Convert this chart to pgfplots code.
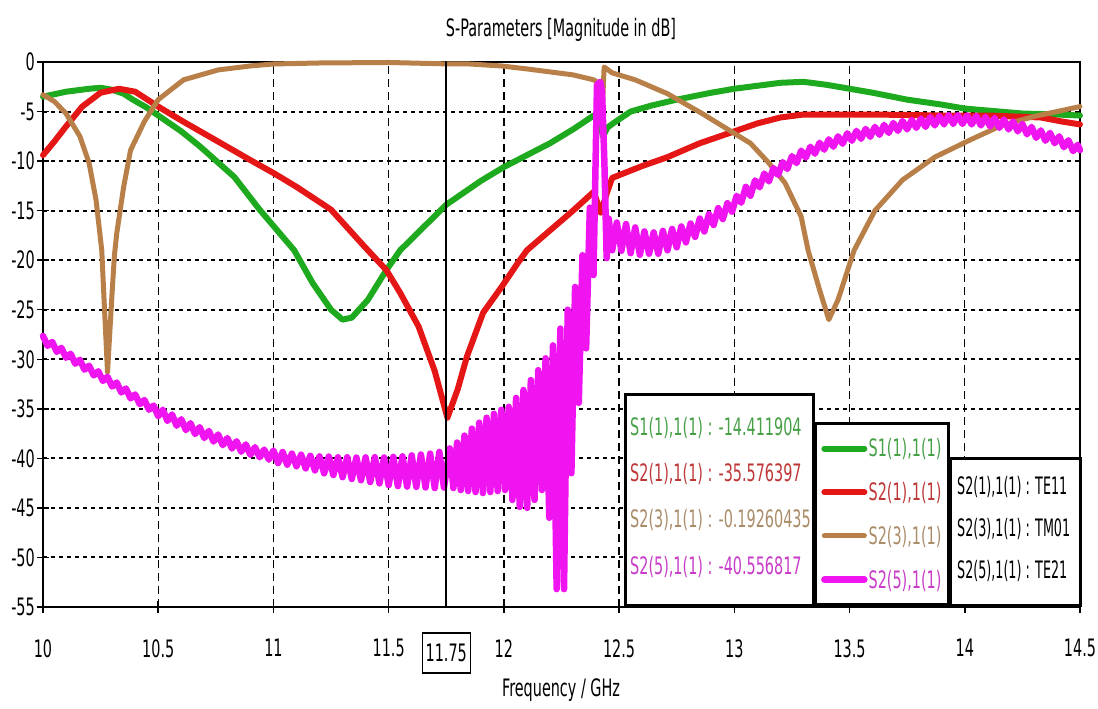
\documentclass[border=0pt]{standalone}
\usepackage{pgfplots}
\pgfplotsset{compat=1.18}
\usepackage{fontspec}
\setmainfont{DejaVu Sans}[FakeStretch=0.6]
\newfontfamily\narrowfont{DejaVu Sans}[FakeStretch=0.53]
\definecolor{cgreen}{RGB}{30,170,30}
\definecolor{cred}{RGB}{228,22,22}
\definecolor{cbrown}{RGB}{184,128,72}
\definecolor{cmag}{RGB}{240,20,240}
\definecolor{tgreen}{RGB}{70,160,70}
\definecolor{tred}{RGB}{190,55,55}
\definecolor{tbrown}{RGB}{170,140,105}
\definecolor{tmag}{RGB}{200,60,200}
\newcommand{\fs}{\fontsize{24}{28}\selectfont}
\begin{document}
\begin{tikzpicture}[x=1pt,y=1pt]
\useasboundingbox (0,0) rectangle (1098,709);
\begin{axis}[
  at={(43pt,102pt)}, anchor=south west,
  scale only axis, width=1037pt, height=545pt,
  xmin=10, xmax=14.5, ymin=-55, ymax=0,
  clip=false,
  xtick={10,10.5,11,11.5,12,12.5,13,13.5,14,14.5},
  xticklabels={10,10.5,11,11.5,12,12.5,13,13.5,14,14.5},
  ytick={-55,-50,-45,-40,-35,-30,-25,-20,-15,-10,-5,0},
  yticklabels={-55,-50,-45,-40,-35,-30,-25,-20,-15,-10,-5,0},
  xtick pos=left, ytick pos=left,
  tick align=center, major tick length=12pt,
  tick style={black, line width=1.5pt},
  axis line style={black, line width=2pt},
  grid=major,
  x grid style={black, line width=1.3pt, dash pattern=on 8pt off 5pt},
  y grid style={black, line width=2pt, dash pattern=on 4pt off 4pt},
  xticklabel style={font=\fs, inner sep=0pt, anchor=north, yshift=-26pt},
  yticklabel style={font=\fs, inner sep=0pt, anchor=east, xshift=-2pt},
  legend style={at={(0.8746,0.0018)}, anchor=south east, draw=black, line width=3pt, fill=white,
    inner xsep=6pt, inner ysep=14pt, row sep=22pt, font=\fs,
    nodes={inner sep=1pt}},
  legend cell align=left,
  legend image code/.code={\draw[#1] (0pt,0pt) -- (40pt,0pt);},
  every axis plot/.append style={line join=round, line cap=round},
]
\addplot[cgreen, line width=6pt] coordinates {
(10.00,-3.5)(10.10,-3.0)(10.20,-2.7)(10.25,-2.6)(10.30,-2.8)(10.35,-3.2)(10.39,-3.8)(10.45,-4.6)(10.50,-5.4)(10.60,-7.0)(10.68,-8.5)(10.83,-11.6)(10.94,-14.9)(11.09,-19.0)(11.17,-22.3)(11.25,-25.0)(11.30,-26.0)(11.34,-25.8)(11.41,-24.0)(11.49,-21.0)(11.55,-19.0)(11.65,-16.7)(11.75,-14.4)(11.90,-12.0)(12.00,-10.6)(12.10,-9.4)(12.20,-8.2)(12.30,-6.8)(12.39,-5.4)(12.415,-5.8)(12.43,-7.5)(12.45,-6.6)(12.48,-6.1)(12.55,-5.0)(12.64,-4.4)(12.75,-3.8)(12.90,-3.1)(13.00,-2.7)(13.10,-2.4)(13.20,-2.1)(13.30,-2.0)(13.40,-2.3)(13.50,-2.7)(13.60,-3.1)(13.75,-3.8)(13.90,-4.3)(14.00,-4.7)(14.15,-5.0)(14.25,-5.2)(14.40,-5.3)(14.50,-5.4)
};
\addlegendentry{\textcolor{tgreen}{S1(1),1(1)}}
\addplot[cred, line width=6pt] coordinates {
(10.00,-9.4)(10.05,-8.0)(10.10,-6.5)(10.17,-4.5)(10.25,-3.1)(10.33,-2.7)(10.40,-3.0)(10.50,-4.5)(10.60,-5.9)(10.75,-7.9)(10.90,-9.9)(11.00,-11.2)(11.10,-12.6)(11.25,-14.9)(11.39,-18.5)(11.49,-21.0)(11.55,-23.3)(11.63,-26.7)(11.70,-31.2)(11.755,-35.9)(11.80,-33.0)(11.84,-29.7)(11.91,-25.3)(11.99,-22.7)(12.06,-20.3)(12.10,-19.0)(12.20,-17.0)(12.30,-15.0)(12.39,-13.1)(12.42,-15.2)(12.45,-13.0)(12.47,-11.7)(12.60,-10.5)(12.71,-9.6)(12.85,-8.2)(13.00,-7.0)(13.10,-6.2)(13.20,-5.6)(13.30,-5.3)(13.60,-5.3)(13.90,-5.4)(14.10,-5.4)(14.33,-5.6)(14.42,-6.0)(14.50,-6.3)
};
\addlegendentry{\textcolor{tred}{S2(1),1(1)}}
\addplot[cbrown, line width=5pt] coordinates {
(10.00,-3.3)(10.05,-4.0)(10.10,-5.2)(10.16,-7.5)(10.20,-10.2)(10.23,-13.9)(10.255,-19.0)(10.265,-24.0)(10.28,-31.3)(10.298,-24.0)(10.31,-19.5)(10.32,-17.3)(10.35,-12.6)(10.38,-8.9)(10.44,-6.0)(10.50,-3.8)(10.61,-1.8)(10.76,-0.8)(10.90,-0.4)(11.00,-0.2)(11.20,-0.1)(11.50,-0.05)(11.75,-0.19)(11.85,-0.2)(11.99,-0.4)(12.10,-0.7)(12.20,-1.0)(12.30,-1.3)(12.39,-1.8)(12.415,-2.2)(12.425,-6.0)(12.435,-0.5)(12.47,-1.1)(12.57,-1.8)(12.71,-3.2)(12.86,-5.2)(13.00,-7.2)(13.07,-8.2)(13.15,-10.2)(13.22,-12.2)(13.29,-15.6)(13.32,-19.0)(13.37,-23.0)(13.41,-26.0)(13.45,-24.0)(13.52,-19.0)(13.61,-15.0)(13.73,-11.9)(13.87,-9.6)(14.02,-7.9)(14.16,-6.4)(14.30,-5.5)(14.40,-5.0)(14.50,-4.5)
};
\addlegendentry{\textcolor{tbrown}{S2(3),1(1)}}
\addplot[cmag, line width=6.5pt] coordinates {
(10.00,-27.65)(10.02,-28.65)(10.04,-28.25)(10.06,-29.25)(10.08,-28.85)(10.10,-29.85)(10.12,-29.45)(10.14,-30.45)(10.16,-30.05)(10.18,-31.05)(10.20,-30.65)(10.22,-31.63)(10.24,-31.21)(10.26,-32.19)(10.28,-31.77)(10.30,-32.75)(10.32,-32.35)(10.34,-33.35)(10.36,-32.95)(10.38,-33.95)(10.40,-33.55)(10.42,-34.53)(10.44,-34.11)(10.46,-35.09)(10.48,-34.67)(10.50,-35.75)(10.52,-35.09)(10.54,-36.23)(10.56,-35.57)(10.58,-36.71)(10.60,-36.05)(10.62,-37.15)(10.64,-36.45)(10.66,-37.55)(10.68,-36.85)(10.70,-37.95)(10.72,-37.23)(10.74,-38.31)(10.76,-37.59)(10.78,-38.67)(10.80,-37.95)(10.82,-39.01)(10.84,-38.27)(10.86,-39.33)(10.88,-38.59)(10.90,-39.65)(10.92,-38.87)(10.94,-39.89)(10.96,-39.11)(10.98,-40.13)(11.00,-39.20)(11.02,-40.48)(11.04,-39.36)(11.06,-40.64)(11.08,-39.52)(11.10,-40.80)(11.12,-39.63)(11.14,-41.01)(11.16,-39.74)(11.18,-41.22)(11.20,-39.80)(11.22,-41.51)(11.24,-39.82)(11.26,-41.68)(11.28,-39.89)(11.30,-41.90)(11.32,-39.89)(11.34,-42.08)(11.36,-39.92)(11.38,-42.21)(11.40,-39.90)(11.42,-42.39)(11.44,-39.88)(11.46,-42.52)(11.48,-39.91)(11.50,-42.70)(11.52,-39.85)(11.54,-42.80)(11.56,-39.80)(11.58,-42.85)(11.60,-39.70)(11.62,-42.88)(11.64,-39.61)(11.66,-42.94)(11.68,-39.52)(11.70,-43.00)(11.72,-39.35)(11.74,-42.95)(11.765,-39.0)(11.781,-43.0)(11.797,-38.4)(11.813,-43.2)(11.829,-37.7)(11.845,-43.3)(11.861,-37.0)(11.877,-43.4)(11.893,-36.4)(11.909,-43.5)(11.925,-35.9)(11.941,-43.4)(11.957,-35.5)(11.973,-43.3)(11.989,-35.1)(12.005,-43.2)(12.021,-34.8)(12.037,-44.2)(12.053,-33.9)(12.069,-44.9)(12.085,-33.1)(12.101,-45.0)(12.117,-32.1)(12.133,-44.2)(12.149,-31.1)(12.165,-43.2)(12.181,-29.9)(12.197,-46.0)(12.213,-28.6)(12.229,-53.2)(12.245,-26.9)(12.261,-53.2)(12.277,-25.0)(12.293,-41.5)(12.309,-22.7)(12.325,-34.4)(12.341,-19.5)(12.357,-28.9)(12.373,-14.7)(12.389,-21.5)(12.398,-10.0)(12.404,-2.3)(12.418,-2.0)(12.426,-3.0)(12.436,-10.0)(12.446,-19.8)(12.455,-15.8)(12.47,-19.0)
(12.49,-16.2)(12.51,-19.05)(12.53,-16.35)(12.55,-19.3)(12.57,-16.7)(12.59,-19.45)(12.61,-17.1)(12.63,-19.35)(12.65,-17.2)(12.67,-19.35)(12.69,-17.05)(12.71,-19.0)(12.73,-16.85)(12.75,-18.7)(12.77,-16.6)(12.79,-18.2)(12.81,-16.3)(12.83,-17.65)(12.85,-15.8)(12.87,-17.1)(12.89,-15.35)(12.91,-16.45)(12.93,-14.75)(12.95,-15.85)(12.97,-14.25)(12.99,-15.1)(13.01,-13.5)(13.03,-14.2)(13.05,-12.6)(13.07,-13.5)(13.09,-11.95)(13.11,-12.65)(13.13,-11.25)(13.15,-12.05)(13.17,-10.7)(13.19,-11.4)(13.21,-10.1)(13.23,-10.8)(13.25,-9.5)(13.27,-10.2)(13.29,-8.95)(13.31,-9.65)(13.33,-8.55)(13.35,-9.25)(13.37,-8.15)(13.39,-8.85)(13.41,-7.8)(13.43,-8.55)(13.45,-7.5)(13.47,-8.25)(13.49,-7.2)(13.51,-7.95)(13.53,-6.95)(13.55,-7.75)(13.57,-6.75)(13.59,-7.55)(13.61,-6.55)(13.63,-7.35)(13.65,-6.35)(13.67,-7.15)(13.69,-6.15)(13.71,-6.95)(13.73,-5.95)(13.75,-6.8)(13.77,-5.85)(13.79,-6.65)(13.81,-5.7)(13.83,-6.55)(13.85,-5.55)(13.87,-6.4)(13.89,-5.45)(13.91,-6.3)(13.93,-5.35)(13.95,-6.25)(13.97,-5.35)(13.99,-6.25)(14.01,-5.4)(14.03,-6.3)(14.05,-5.45)(14.07,-6.4)(14.09,-5.55)(14.11,-6.5)(14.13,-5.65)(14.15,-6.65)(14.17,-5.8)(14.19,-6.8)(14.21,-6.0)(14.23,-7.0)(14.25,-6.25)(14.27,-7.3)(14.29,-6.55)(14.31,-7.65)(14.33,-6.9)(14.35,-7.95)(14.37,-7.15)(14.39,-8.2)(14.41,-7.5)(14.43,-8.6)(14.45,-7.9)(14.47,-9.0)(14.49,-8.35)(14.50,-8.9)
};
\addlegendentry{\textcolor{tmag}{S2(5),1(1)}}
\addplot[black, line width=2pt, forget plot] coordinates {(11.75,-55) (11.75,0)};
\node[draw=black, line width=1.5pt, font=\fs, minimum width=48pt, minimum height=40pt, inner sep=2pt] at (axis cs:11.75,-55) [yshift=-46pt] {11.75};
\end{axis}
\node[font=\fs] at (561,679) {S-Parameters [Magnitude in dB]};
\node[font=\fs] at (561,19) {Frequency / GHz};
% marker value box
\draw[line width=3pt, fill=white] (625,103) rectangle (813,314);
\node[anchor=west, font=\fs, text=tgreen, inner sep=0pt] at (630,281) {S1(1),1(1) : -14.411904};
\node[anchor=west, font=\fs, text=tred, inner sep=0pt] at (630,235) {S2(1),1(1) : -35.576397};
\node[anchor=west, font=\fs, text=tbrown, inner sep=0pt] at (630,189) {S2(3),1(1) : -0.19260435};
\node[anchor=west, font=\fs, text=tmag, inner sep=0pt] at (630,142) {S2(5),1(1) : -40.556817};
% mode box
\draw[line width=3pt, fill=white] (950,103) rectangle (1080,250);
\node[anchor=west, font=\fs\narrowfont, inner sep=0pt] at (957,222) {S2(1),1(1) : TE11};
\node[anchor=west, font=\fs\narrowfont, inner sep=0pt] at (957,180) {S2(3),1(1) : TM01};
\node[anchor=west, font=\fs\narrowfont, inner sep=0pt] at (957,138) {S2(5),1(1) : TE21};
\end{tikzpicture}
\end{document}
